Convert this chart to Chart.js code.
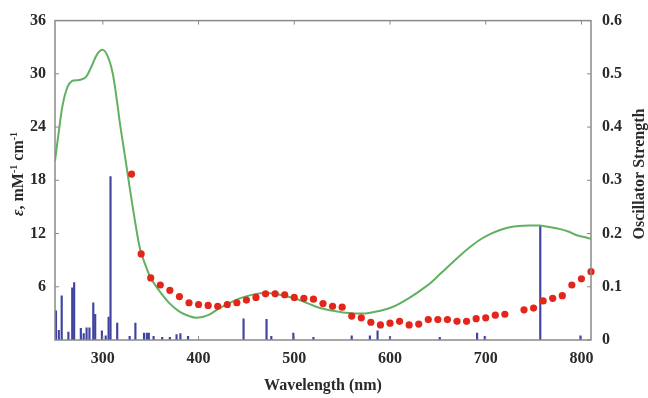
<!DOCTYPE html>
<html><head><meta charset="utf-8">
<script src="https://cdn.jsdelivr.net/npm/chart.js@4"></script>
<style>html,body{margin:0;padding:0;background:#fff}</style>
</head><body>
<canvas id="c" width="648" height="398"></canvas>
<script>
// Calculated absorption spectrum (green curve), epsilon in mM^-1 cm^-1
const absWavelength = [250,254,258,263,268,275,282,288,294,300,305,310,314,318,323,328,333,339,345,350,360,370,380,390,398,410,422,435,446,460,472,485,503,515,527,540,551,563,575,590,600,610,621,632,642,652,663,673,684,694,704,715,725,735,746,757,768,778,787,795,803,810];
const absEpsilon    = [20.2,23.5,26.5,28.5,29.2,29.3,29.6,30.8,32.2,32.7,32.0,30.2,27.5,24.3,20.8,17.2,13.8,10.2,8.3,7.0,5.4,4.1,3.2,2.7,2.5,2.8,3.6,4.3,4.8,5.2,5.3,5.1,4.6,4.1,3.6,3.3,3.1,3.0,3.0,3.3,3.6,4.1,4.8,5.6,6.4,7.4,8.5,9.5,10.5,11.3,11.9,12.4,12.7,12.85,12.9,12.9,12.7,12.5,12.2,11.8,11.6,11.4];
// Experimental spectrum (red dots)
const expWavelength = [330,340,350,360,370,380,390,400,410,420,430,440,450,460,470,480,490,500,510,520,530,540,550,560,570,580,590,600,610,620,630,640,650,660,670,680,690,700,710,720,740,750,760,770,780,790,800,810];
const expEpsilon    = [18.7,9.7,7.0,6.2,5.6,4.9,4.2,4.0,3.9,3.8,4.0,4.2,4.5,4.8,5.2,5.2,5.1,4.8,4.7,4.6,4.1,3.8,3.7,2.7,2.5,2.0,1.7,1.9,2.1,1.7,1.8,2.3,2.3,2.3,2.1,2.1,2.4,2.5,2.8,2.9,3.4,3.6,4.4,4.7,5.0,6.2,6.9,7.7];
// Calculated transitions (blue sticks), oscillator strength
const stickWavelength = [251,254,257,264,268,270,277,280,283,286,290,292,299,303,306,308,315,328,334,343,346,348,353,362,370,377,381,389,447,471,476,499,520,560,579,587,600,652,691,699,757,799];
const stickStrength   = [0.055,0.018,0.083,0.015,0.098,0.108,0.022,0.012,0.023,0.023,0.070,0.048,0.017,0.008,0.043,0.307,0.032,0.007,0.032,0.013,0.013,0.013,0.007,0.005,0.005,0.010,0.012,0.007,0.040,0.039,0.007,0.013,0.005,0.008,0.008,0.017,0.007,0.005,0.013,0.007,0.215,0.008];
const xTicks  = [300,400,500,600,700,800];
const yTicks  = [6,12,18,24,30,36];
const y2Ticks = [0,0.1,0.2,0.3,0.4,0.5,0.6];

const serif = '"Liberation Serif", "Times New Roman", serif';
const tickFont = {family: serif, size: 16, weight: 'bold'};
const textColor = '#2a2a2a';

const framePlugin = {
  id: 'frame',
  afterDatasetsDraw(chart) {
    const {ctx, chartArea: a, scales} = chart;
    ctx.save();
    const line = (x1,y1,x2,y2) => { ctx.beginPath(); ctx.moveTo(x1,y1); ctx.lineTo(x2,y2); ctx.stroke(); };
    ctx.strokeStyle = '#8a8a8a';
    ctx.lineWidth = 1.5;
    ctx.strokeRect(a.left, a.top, a.right - a.left, a.bottom - a.top);
    ctx.lineWidth = 1;
    xTicks.forEach(v => { const p = scales.x.getPixelForValue(v); line(p, a.bottom, p, a.bottom - 4); line(p, a.top, p, a.top + 4); });
    yTicks.forEach(v => { const p = scales.y.getPixelForValue(v); line(a.left, p, a.left + 4, p); });
    y2Ticks.forEach(v => { const p = scales.y2.getPixelForValue(v); line(a.right, p, a.right - 4, p); });

    ctx.fillStyle = textColor;
    ctx.textBaseline = 'middle';
    // left title
    const parts = [
      {t: 'ε', f: 'italic bold 16px ' + serif, dy: 0},
      {t: ', mM', f: 'bold 16px ' + serif, dy: 0},
      {t: '-1', f: 'bold 10px ' + serif, dy: -5},
      {t: ' cm', f: 'bold 16px ' + serif, dy: 0},
      {t: '-1', f: 'bold 10px ' + serif, dy: -5}
    ];
    let total = 0;
    parts.forEach(p => { ctx.font = p.f; p.w = ctx.measureText(p.t).width; total += p.w; });
    ctx.save();
    ctx.translate(19, 174);
    ctx.rotate(-Math.PI / 2);
    let x = -total / 2;
    ctx.textAlign = 'left';
    parts.forEach(p => { ctx.font = p.f; ctx.fillText(p.t, x, p.dy); x += p.w; });
    ctx.restore();
    // right title
    ctx.save();
    ctx.translate(640, 174);
    ctx.rotate(-Math.PI / 2);
    ctx.textAlign = 'center';
    ctx.font = 'bold 16px ' + serif;
    ctx.fillText('Oscillator Strength', 0, 0);
    ctx.restore();
    ctx.restore();
  }
};

new Chart(document.getElementById('c'), {
  type: 'bar',
  data: {
    datasets: [
      {
        type: 'scatter',
        data: expWavelength.map((x, i) => ({x, y: expEpsilon[i]})),
        backgroundColor: '#e3261b', borderWidth: 0, pointRadius: 3.6,
        yAxisID: 'y', order: 1, clip: false
      },
      {
        type: 'line',
        data: absWavelength.map((x, i) => ({x, y: absEpsilon[i]})),
        borderColor: '#62b062', borderWidth: 2, pointRadius: 0, fill: false,
        tension: 0.35, yAxisID: 'y', order: 2
      },
      {
        type: 'bar',
        data: stickWavelength.map((x, i) => ({x, y: stickStrength[i]})),
        backgroundColor: '#40449f', barThickness: 1.5, grouped: false,
        yAxisID: 'y2', order: 3
      }
    ]
  },
  options: {
    responsive: false, animation: false, devicePixelRatio: 1,
    layout: {padding: {top: 14, left: 0, right: 0, bottom: 0}},
    plugins: {legend: {display: false}, tooltip: {enabled: false}},
    scales: {
      x: {
        type: 'linear', min: 250, max: 810, offset: false,
        afterBuildTicks: s => { s.ticks = xTicks.map(v => ({value: v})); },
        afterFit: s => { s.height = 58; },
        grid: {display: false, drawTicks: false, offset: false},
        border: {display: false},
        ticks: {padding: 9, font: tickFont, color: textColor, maxRotation: 0},
        title: {display: true, text: 'Wavelength (nm)', font: tickFont, color: textColor, padding: {top: 0, bottom: 3}}
      },
      y: {
        position: 'left', min: 0, max: 36,
        afterBuildTicks: s => { s.ticks = yTicks.map(v => ({value: v})); },
        afterFit: s => { s.width = 55; },
        grid: {display: false, drawTicks: false},
        border: {display: false},
        ticks: {padding: 9, font: tickFont, color: textColor}
      },
      y2: {
        position: 'right', min: 0, max: 0.6,
        afterBuildTicks: s => { s.ticks = y2Ticks.map(v => ({value: v})); },
        afterFit: s => { s.width = 57; },
        grid: {display: false, drawTicks: false},
        border: {display: false},
        ticks: {padding: 11, font: tickFont, color: textColor, callback: v => String(v)}
      }
    }
  },
  plugins: [framePlugin]
});
</script>
</body></html>
